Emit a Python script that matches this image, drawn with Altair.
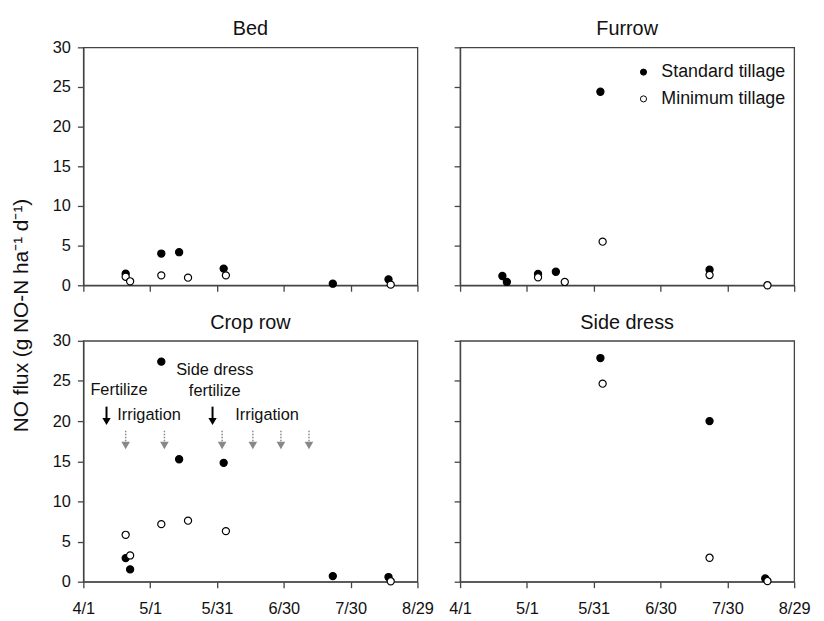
import altair as alt
import pandas as pd

FONT = "Liberation Sans"
YEAR = "2009/"
START = pd.Timestamp("2009-04-01")

treatments = ["Standard tillage", "Minimum tillage"]
panels = ["Bed", "Furrow", "Crop row", "Side dress"]

# x tick labels (month/day)
tick_labels = ["4/1", "5/1", "5/31", "6/30", "7/30", "8/29"]
y_ticks = [0, 5, 10, 15, 20, 25, 30]

# ---- Bed ----
bed_std_dates = ["4/20", "5/6", "5/14", "6/3", "7/22", "8/16"]
bed_std_vals = [1.46, 4.0, 4.17, 2.1, 0.2, 0.75]
bed_min_dates = ["4/20", "4/22", "5/6", "5/18", "6/4", "8/17"]
bed_min_vals = [1.08, 0.5, 1.25, 0.96, 1.25, 0.08]

# ---- Furrow ----
furrow_std_dates = ["4/20", "4/22", "5/6", "5/14", "6/3", "7/22"]
furrow_std_vals = [1.17, 0.42, 1.42, 1.7, 24.4, 1.96]
furrow_min_dates = ["5/6", "5/18", "6/4", "7/22", "8/17"]
furrow_min_vals = [1.0, 0.42, 5.5, 1.3, 0.0]

# ---- Crop row ----
crop_std_dates = ["4/20", "4/22", "5/6", "5/14", "6/3", "7/22", "8/16"]
crop_std_vals = [2.94, 1.53, 27.4, 15.25, 14.8, 0.7, 0.58]
crop_min_dates = ["4/20", "4/22", "5/6", "5/18", "6/4", "8/17"]
crop_min_vals = [5.84, 3.27, 7.17, 7.6, 6.3, 0.05]

# ---- Side dress ----
side_std_dates = ["6/3", "7/22", "8/16"]
side_std_vals = [27.85, 20.0, 0.4]
side_min_dates = ["6/4", "7/22", "8/17"]
side_min_vals = [24.66, 2.98, 0.08]

# ---- Crop row annotations (x in days after 4/1, y in flux units) ----
ann_text = ["Fertilize", "Irrigation", "Side dress", "fertilize", "Irrigation"]
ann_x = [16.0, 29.5, 59.0, 59.0, 82.5]
ann_y = [23.9, 20.7, 26.4, 23.8, 20.7]
fert_arrow_x = [10.4, 58.0]
fert_arrow_top, fert_arrow_bottom, fert_head_y = 21.8, 20.3, 19.95
irr_arrow_x = [19.0, 36.4, 62.3, 76.1, 88.7, 101.3]
irr_arrow_top, irr_arrow_bottom, irr_head_y = 18.8, 17.4, 16.95


def to_day(md):
    return (pd.Timestamp(YEAR + md) - START).days


tick_days = [to_day(t) for t in tick_labels]
label_expr = "".join(
    f"datum.value == {d} ? '{t}' : " for d, t in zip(tick_days, tick_labels)
) + "''"


def frame(std_dates, std_vals, min_dates, min_vals):
    rows = []
    for d, v in zip(std_dates, std_vals):
        rows.append({"day": to_day(d), "flux": v, "treatment": treatments[0]})
    for d, v in zip(min_dates, min_vals):
        rows.append({"day": to_day(d), "flux": v, "treatment": treatments[1]})
    return pd.DataFrame(rows)


data = {
    "Bed": frame(bed_std_dates, bed_std_vals, bed_min_dates, bed_min_vals),
    "Furrow": frame(furrow_std_dates, furrow_std_vals, furrow_min_dates, furrow_min_vals),
    "Crop row": frame(crop_std_dates, crop_std_vals, crop_min_dates, crop_min_vals),
    "Side dress": frame(side_std_dates, side_std_vals, side_min_dates, side_min_vals),
}

XS = alt.Scale(domain=[0, 150], nice=False, zero=False)
YS = alt.Scale(domain=[0, 30], nice=False)
W = 337


def panel(name, h, x_labels, y_labels, legend=False, ytitle=False):
    xax = alt.Axis(values=tick_days, labels=x_labels, labelExpr=label_expr,
                   tickSize=6, labelPadding=13, grid=False, title=None,
                   labelFlush=False, labelOverlap=False)
    if ytitle:
        yax = alt.Axis(values=y_ticks, labels=y_labels, tickSize=6, labelPadding=7,
                       grid=False, title="NO flux (g NO-N ha\u207b\u00b9 d\u207b\u00b9)",
                       titleX=-56, titleY=h + 30, titleAngle=270, titleAlign="center",
                       titleBaseline="alphabetic", titleFontSize=21,
                       titleFontWeight="normal", titleFont=FONT, titleColor="#111")
    else:
        yax = alt.Axis(values=y_ticks, labels=y_labels, tickSize=6, labelPadding=7,
                       grid=False, title=None)
    if legend:
        leg = alt.Legend(title=None, orient="none", legendX=176, legendY=16,
                         symbolType="circle", symbolSize=38, symbolStrokeColor="black",
                         symbolStrokeWidth=1, labelFontSize=18, labelFont=FONT,
                         labelColor="#111", labelOffset=9, rowPadding=9, padding=0)
    else:
        leg = None
    fx = alt.X("day:Q", scale=XS, axis=xax)
    pts = alt.Chart(data[name]).mark_circle(
        size=52, stroke="black", strokeWidth=1.2, opacity=1
    ).encode(
        x=fx,
        y=alt.Y("flux:Q", scale=YS, axis=yax),
        fill=alt.Fill("treatment:N", scale=alt.Scale(domain=treatments, range=["black", "white"]),
                      legend=leg, sort=treatments),
    )
    layers = [pts]
    if name == "Crop row":
        fert_df = pd.DataFrame({"day": fert_arrow_x, "top": fert_arrow_top,
                                "bottom": fert_arrow_bottom, "head": fert_head_y})
        irr_df = pd.DataFrame({"day": irr_arrow_x, "top": irr_arrow_top,
                               "bottom": irr_arrow_bottom, "head": irr_head_y})
        txt_df = pd.DataFrame({"day": ann_x, "flux": ann_y, "label": ann_text})
        layers += [
            alt.Chart(irr_df).mark_rule(color="#888", strokeWidth=1.5, strokeDash=[1.5, 1.5]).encode(
                x=fx, y=alt.Y("top:Q", scale=YS, axis=yax), y2="bottom:Q"),
            alt.Chart(irr_df).mark_point(shape="triangle-down", filled=True, size=75,
                                         color="#888", opacity=1).encode(
                x=fx, y=alt.Y("head:Q", scale=YS, axis=yax)),
            alt.Chart(fert_df).mark_rule(color="black", strokeWidth=2).encode(
                x=fx, y=alt.Y("top:Q", scale=YS, axis=yax), y2="bottom:Q"),
            alt.Chart(fert_df).mark_point(shape="triangle-down", filled=True, size=70,
                                          color="black", opacity=1).encode(
                x=fx, y=alt.Y("head:Q", scale=YS, axis=yax)),
            alt.Chart(txt_df).mark_text(font=FONT, fontSize=16.5, color="#111",
                                        align="center", baseline="middle").encode(
                x=fx, y=alt.Y("flux:Q", scale=YS, axis=yax), text="label:N"),
        ]
    # panel title drawn as a text mark centred above the plot area
    title = alt.Chart(pd.DataFrame({"panel": [name]})).mark_text(
        font=FONT, fontSize=20, color="#111", align="center", baseline="alphabetic"
    ).encode(text="panel:N", x=alt.value(W / 2), y=alt.value(-12))
    layers.append(title)
    return alt.layer(*layers).properties(width=W, height=h)


p1 = panel("Bed", 240, False, True, ytitle=True)
p2 = panel("Furrow", 240, False, False, legend=True)
p3 = panel("Crop row", 243, True, True)
p4 = panel("Side dress", 243, True, False)

chart = alt.concat(
    p1, p2, p3, p4, columns=2, spacing={"row": 56, "column": 43}, bounds="flush"
).resolve_scale(fill="independent").resolve_legend(fill="independent").configure_view(
    stroke="#444", strokeWidth=1.3
).configure_axis(
    domainColor="#444", domainWidth=1.3, tickColor="#444", tickWidth=1.3,
    labelColor="#111", labelFontSize=16.5, labelFont=FONT,
).properties(
    padding={"left": 2, "top": 8, "right": 5, "bottom": 5}
)

chart.save("out.html", embed_options={"renderer": "svg", "actions": False})
